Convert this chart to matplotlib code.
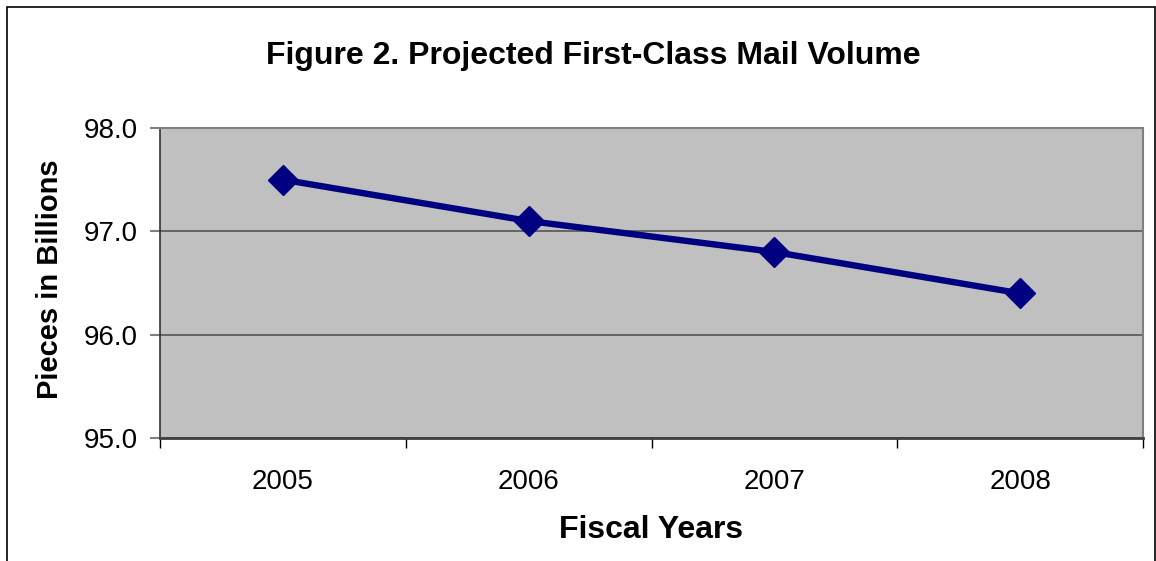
import matplotlib
matplotlib.use('Agg')
import matplotlib.pyplot as plt
from matplotlib.patches import Rectangle

# data
years = ['2005', '2006', '2007', '2008']
volume = [97.5, 97.1, 96.8, 96.4]
y_ticks = [95.0, 96.0, 97.0, 98.0]

plt.rcParams['font.family'] = ['Liberation Sans', 'DejaVu Sans']

W, H = 1156, 561
fig = plt.figure(figsize=(W / 100, H / 100), dpi=100)

# outer chart border (Excel chart area)
fig.patches.append(Rectangle((7 / W, -0.05), (1155 - 7) / W, 1.05 - 7 / H,
                             transform=fig.transFigure, fill=False,
                             edgecolor='black', linewidth=1.2))

left, right, top, bottom = 160, 1143, 128, 438
ax = fig.add_axes([left / W, (H - bottom) / H, (right - left) / W, (bottom - top) / H])
ax.set_facecolor('#C0C0C0')

x = [i + 0.5 for i in range(len(years))]
ax.plot(x, volume, color='#000080', linewidth=4.6, marker='D', markersize=15)

ax.set_xlim(0, len(years))
ax.set_ylim(95.0, 98.0)
ax.set_yticks(y_ticks)
ax.set_yticklabels(['%.1f' % v for v in y_ticks])
ax.set_xticks(range(len(years) + 1))
ax.set_xticklabels([])
ax.set_xticks(x, minor=True)
ax.set_xticklabels(years, minor=True)
ax.tick_params(axis='x', which='minor', length=0, pad=22, labelsize=20)
ax.tick_params(axis='x', which='major', length=7, width=1, color='black', direction='out')
ax.tick_params(axis='y', length=7, width=1.5, color='#808080', labelsize=20, pad=9)

ax.grid(axis='y', color='#555555', linewidth=1.2)
ax.set_axisbelow(True)
for s in ['top', 'right']:
    ax.spines[s].set_color('#808080')
    ax.spines[s].set_linewidth(1.5)
ax.spines['left'].set_color('#333333')
ax.spines['left'].set_linewidth(1.2)
ax.spines['bottom'].set_color('#404040')
ax.spines['bottom'].set_linewidth(2)

fig.text(593 / W, 1 - 56 / H, 'Figure 2. Projected First-Class Mail Volume',
         ha='center', va='center', fontsize=23, fontweight='bold')
fig.text(651 / W, 1 - 530 / H, 'Fiscal Years', ha='center', va='center',
         fontsize=23, fontweight='bold')
fig.text(50 / W, 1 - 279 / H, 'Pieces in Billions', ha='center', va='center',
         rotation=90, fontsize=21, fontweight='bold')

fig.savefig('out.png', dpi=100)
